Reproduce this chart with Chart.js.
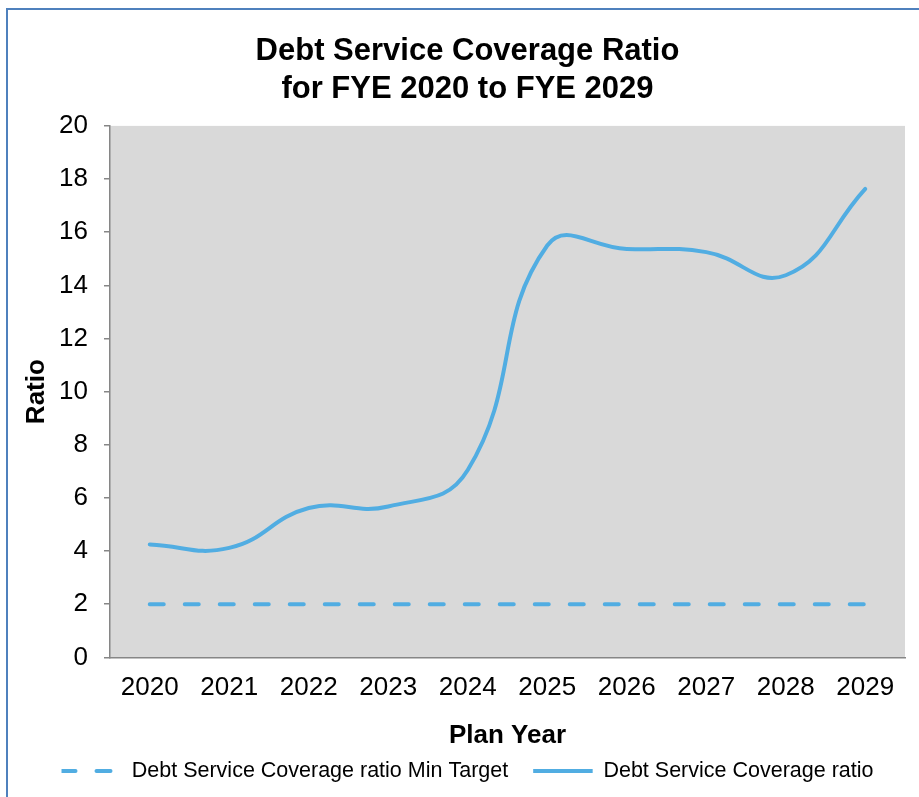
<!DOCTYPE html>
<html>
<head>
<meta charset="utf-8">
<script src="https://cdn.jsdelivr.net/npm/chart.js@4"></script>
<style>
  html, body { margin: 0; padding: 0; background: #fff; }
  #wrap { width: 919px; height: 797px; }
</style>
</head>
<body>
<div id="wrap"><canvas id="dscrChart" width="919" height="797"></canvas></div>
<script>
const years = ['2020', '2021', '2022', '2023', '2024', '2025', '2026', '2027', '2028', '2029'];
const coverageRatio = [4.25, 4.12, 5.62, 5.68, 7.05, 15.5, 15.37, 15.25, 14.38, 17.63];
const minTarget = [2, 2, 2, 2, 2, 2, 2, 2, 2, 2];
const yTicks = [0, 2, 4, 6, 8, 10, 12, 14, 16, 18, 20];

const lineBlue = '#51ade2';
const font = 'Liberation Sans, Arial, sans-serif';

// gray plot area + the blue frame round the whole chart
const backdrop = {
  id: 'backdrop',
  beforeDraw(chart) {
    const { ctx, chartArea: a } = chart;
    ctx.save();
    ctx.fillStyle = '#ffffff';
    ctx.fillRect(0, 0, chart.width, chart.height);
    ctx.fillStyle = '#d9d9d9';
    ctx.fillRect(a.left, a.top, a.right - a.left, a.bottom - a.top);
    ctx.strokeStyle = '#4f81bd';
    ctx.lineWidth = 2;
    ctx.beginPath();
    ctx.moveTo(7, chart.height);
    ctx.lineTo(7, 9);
    ctx.lineTo(chart.width, 9);
    ctx.stroke();
    ctx.restore();
  }
};

document.addEventListener('DOMContentLoaded', () => {
  const ctx = document.getElementById('dscrChart').getContext('2d');
  new Chart(ctx, {
    type: 'line',
    data: {
      labels: years,
      datasets: [{
        label: 'Debt Service Coverage ratio Min Target',
        data: minTarget,
        borderColor: lineBlue,
        backgroundColor: lineBlue,
        borderWidth: 4,
        borderDash: [14, 21],
        borderCapStyle: 'round',
        pointRadius: 0,
        fill: false
      }, {
        label: 'Debt Service Coverage ratio',
        data: coverageRatio,
        borderColor: lineBlue,
        backgroundColor: lineBlue,
        borderWidth: 4,
        borderCapStyle: 'round',
        tension: 0.45,
        pointRadius: 0,
        fill: false
      }]
    },
    options: {
      responsive: false,
      animation: false,
      layout: { padding: { left: 30, right: 14, top: 0, bottom: 5.25 } },
      plugins: {
        title: {
          display: true,
          text: ['Debt Service Coverage Ratio', 'for FYE 2020 to FYE 2029'],
          color: '#000',
          font: { family: font, size: 31, weight: 'bold', lineHeight: 1.24 },
          padding: { top: 32, bottom: 17 }
        },
        legend: {
          position: 'bottom',
          labels: {
            boxWidth: 59.5,
            boxHeight: 0,
            padding: 25,
            color: '#000',
            font: { family: font, size: 21.5 }
          }
        },
        tooltip: { enabled: false }
      },
      scales: {
        x: {
          offset: true,
          grid: { display: false },
          border: { display: true, color: '#868686', width: 1.5 },
          ticks: { color: '#000', padding: 7, font: { family: font, size: 26 } },
          title: {
            display: true,
            text: 'Plan Year',
            color: '#000',
            font: { family: font, size: 26, weight: 'bold' },
            padding: { top: 9.8, bottom: -16.35 }
          }
        },
        y: {
          min: 0,
          max: 20,
          afterBuildTicks: (scale) => { scale.ticks = yTicks.map(v => ({ value: v })); },
          afterFit: (scale) => { scale.width = 80; },
          grid: { drawOnChartArea: false, tickLength: 6, color: '#868686', lineWidth: 1.5 },
          border: { display: true, color: '#868686', width: 1.5 },
          ticks: { color: '#000', padding: 16, font: { family: font, size: 26 } },
          title: {
            display: true,
            text: 'Ratio',
            color: '#000',
            font: { family: font, size: 26, weight: 'bold' },
            padding: { top: -8.6 }
          }
        }
      }
    },
    plugins: [backdrop]
  });
});
</script>
</body>
</html>
